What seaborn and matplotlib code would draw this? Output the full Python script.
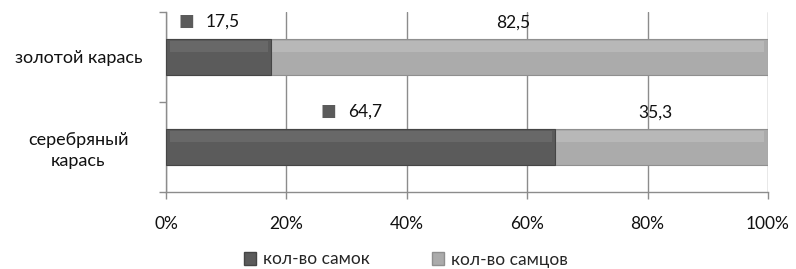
import pandas as pd
import seaborn as sns
import matplotlib.pyplot as plt
from matplotlib.patches import Patch
from matplotlib.ticker import FixedLocator, PercentFormatter

categories = ["золотой карась", "серебряный\nкарась"]
females = [17.5, 64.7]
males = [82.5, 35.3]
series_names = ["кол-во самок", "кол-во самцов"]
label_texts_f = ["17,5", "64,7"]
label_texts_m = ["82,5", "35,3"]

dark = "#5b5b5b"
light = "#ababab"
grid_col = "#8c8c8c"
txt = "#111111"

sns.set_theme(style="white")
plt.rcParams['font.family'] = ['Lato', 'DejaVu Sans']

df = pd.DataFrame({"cat": categories, "f": females, "m": males})
df["total"] = df["f"] + df["m"]

fig = plt.figure(figsize=(7.96, 2.69), dpi=100)
ax = fig.add_axes([166 / 796, 1 - 192 / 269, (768 - 166) / 796, 180 / 269])

# light segment = full stack, dark drawn on top
sns.barplot(data=df, x="total", y="cat", orient="h", color=light, width=0.4,
            edgecolor="#8f8f8f", linewidth=0.8, saturation=1, ax=ax, zorder=3)
sns.barplot(data=df, x="f", y="cat", orient="h", color=dark, width=0.4,
            edgecolor="#454545", linewidth=0.8, saturation=1, ax=ax, zorder=4)

# soft highlight on the upper part of each bar (bevel hint)
for p in list(ax.patches):
    x0, y0 = p.get_x(), p.get_y()
    w, h = p.get_width(), p.get_height()
    base = p.get_facecolor()
    hl = tuple(min(1, c + 0.05) for c in base[:3])
    ax.add_patch(plt.Rectangle((x0 + 0.6, y0 + h * 0.06), w - 1.2, h * 0.3,
                               color=hl, lw=0, zorder=p.get_zorder() + 0.5))

ax.set_xlim(0, 100)
ax.set_ylim(1.5, -0.5)
ax.xaxis.set_major_locator(FixedLocator([0, 20, 40, 60, 80, 100]))
ax.xaxis.set_major_formatter(PercentFormatter(decimals=0))
ax.grid(axis="x", color=grid_col, linewidth=1, zorder=0)
ax.set_axisbelow(True)
ax.set_xlabel("")
ax.set_ylabel("")

for s in ["top", "right"]:
    ax.spines[s].set_visible(False)
for s in ["left", "bottom"]:
    ax.spines[s].set_color(grid_col)
    ax.spines[s].set_linewidth(1)

ax.tick_params(axis="x", length=5, width=1, color=grid_col, labelsize=12.5,
               pad=12, labelcolor=txt, bottom=True)
ax.yaxis.set_minor_locator(FixedLocator([-0.5, 0.5, 1.5]))
ax.tick_params(axis="y", which="minor", length=5, width=1, color=grid_col, left=True)
ax.tick_params(axis="y", which="major", length=0, labelsize=13, pad=63,
               labelcolor=txt)
for t in ax.get_yticklabels():
    t.set_horizontalalignment("center")
    t.set_multialignment("center")
    t.set_linespacing(1.35)

# data labels
for i in range(len(categories)):
    top = i - 0.2
    fc = females[i] / 2
    ax.annotate(label_texts_f[i], xy=(fc, top), xytext=(4, 17),
                textcoords="offset pixels", ha="center", va="center",
                fontsize=12.5, color=txt)
    ax.annotate("■", xy=(fc, top), xytext=(-32, 18),
                textcoords="offset pixels", ha="center", va="center",
                fontsize=12, color=dark, family="DejaVu Sans")
    mc = females[i] + males[i] / 2
    ax.annotate(label_texts_m[i], xy=(mc, top), xytext=(-6, 16),
                textcoords="offset pixels", ha="center", va="center",
                fontsize=12.5, color=txt)

handles = [Patch(facecolor=dark, edgecolor="#454545"),
           Patch(facecolor=light, edgecolor="#8f8f8f")]
fig.legend(handles, series_names, loc="center", bbox_to_anchor=(0.51, 9.5 / 269),
           ncol=2, frameon=False, fontsize=12.5, handlelength=0.7, handleheight=0.7,
           handletextpad=0.4, columnspacing=3.6)

fig.savefig("out.png", dpi=100)
